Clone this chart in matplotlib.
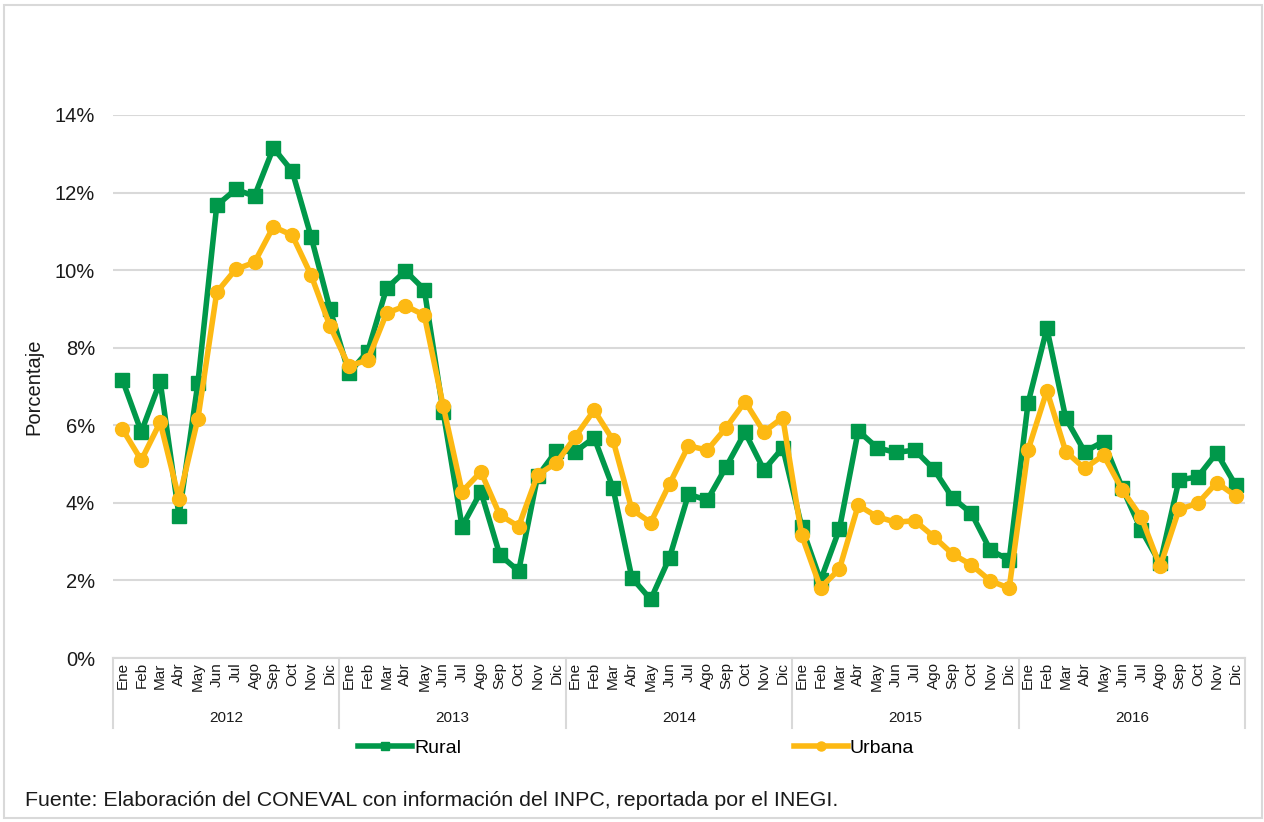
import matplotlib
matplotlib.use("Agg")
import matplotlib.pyplot as plt
from matplotlib.patches import Rectangle
from matplotlib.ticker import FuncFormatter

plt.rcParams['font.family'] = ['Liberation Sans', 'DejaVu Sans']

years = ["2012", "2013", "2014", "2015", "2016"]
months = ["Ene", "Feb", "Mar", "Abr", "May", "Jun",
          "Jul", "Ago", "Sep", "Oct", "Nov", "Dic"]

rural = [7.17, 5.83, 7.13, 3.66, 7.09, 11.67, 12.08, 11.91, 13.15, 12.55, 10.86, 9.0,
         7.35, 7.9, 9.53, 9.98, 9.5, 6.35, 3.39, 4.29, 2.66, 2.24, 4.68, 5.34,
         5.32, 5.68, 4.39, 2.07, 1.51, 2.59, 4.22, 4.07, 4.93, 5.82, 4.85, 5.42,
         3.39, 2.0, 3.32, 5.86, 5.42, 5.3, 5.36, 4.87, 4.13, 3.73, 2.78, 2.53,
         6.57, 8.5, 6.18, 5.32, 5.58, 4.38, 3.3, 2.44, 4.59, 4.67, 5.29, 4.46]

urbana = [5.9, 5.1, 6.08, 4.1, 6.17, 9.43, 10.02, 10.2, 11.12, 10.9, 9.87, 8.56,
          7.53, 7.68, 8.89, 9.08, 8.84, 6.5, 4.29, 4.8, 3.69, 3.39, 4.72, 5.03,
          5.7, 6.39, 5.62, 3.83, 3.49, 4.49, 5.47, 5.36, 5.94, 6.61, 5.83, 6.2,
          3.17, 1.81, 2.29, 3.94, 3.64, 3.5, 3.54, 3.13, 2.68, 2.4, 1.99, 1.8,
          5.36, 6.89, 5.32, 4.89, 5.23, 4.33, 3.63, 2.36, 3.83, 3.99, 4.52, 4.18]

green = "#00984A"
yellow = "#FDB913"
grey = "#D9D9D9"

fig = plt.figure(figsize=(12.64, 8.22), dpi=100)
ax = fig.add_axes([113/1264, 1 - 658/822, (1245 - 113)/1264, (658 - 115)/822])

x = list(range(len(rural)))
ax.plot(x, rural, color=green, lw=4, marker="s", markersize=9.5, label="Rural", zorder=3)
ax.plot(x, urbana, color=yellow, lw=4, marker="o", markersize=10, label="Urbana", zorder=4)

ax.set_xlim(-0.5, len(x) - 0.5)
ax.set_ylim(0, 14)
ax.set_yticks(range(0, 15, 2))
ax.yaxis.set_major_formatter(FuncFormatter(lambda v, p: f"{v:.0f}%"))
ax.grid(axis="y", color=grey, lw=1.5)
ax.set_axisbelow(True)
for s in ["top", "right", "left"]:
    ax.spines[s].set_visible(False)
ax.spines["bottom"].set_color(grey)
ax.spines["bottom"].set_linewidth(1.5)
ax.tick_params(axis="y", length=0, labelsize=14.5, pad=13, labelcolor="#1a1a1a")

ax.set_xticks(x)
ax.set_xticklabels(months * len(years), rotation=90, fontsize=11)
ax.tick_params(axis="x", length=0, pad=3, labelcolor="#1a1a1a")

ax.set_ylabel("Porcentaje", fontsize=14.5, labelpad=8, color="#1a1a1a")

# multi-level category axis: year separators and labels
tr = ax.get_xaxis_transform()
depth = (728 - 658) / (658 - 115)
for i in range(len(years) + 1):
    ax.plot([i * 12 - 0.5, i * 12 - 0.5], [0, -depth], transform=tr,
            color=grey, lw=1.5, clip_on=False)
for i, yr in enumerate(years):
    ax.text(i * 12 + 5.5, -(718 - 658) / (658 - 115), yr, transform=tr,
            ha="center", va="center", fontsize=11, color="#1a1a1a")

fig.legend(loc="center", bbox_to_anchor=(636/1264, 1 - 748/822), ncol=2,
           frameon=False, fontsize=14, handlelength=2.8, handletextpad=0.1,
           columnspacing=17.1, markerscale=0.65)

fig.text(25/1264, 1 - 800/822,
         "Fuente: Elaboración del CONEVAL con información del INPC, reportada por el INEGI.",
         fontsize=15.4, ha="left", va="center", color="#1a1a1a")

fig.patches.append(Rectangle((4/1264, 4/822), 1258/1264, 813/822, transform=fig.transFigure,
                             fill=False, edgecolor=grey, lw=1.5))

fig.savefig("out.png", dpi=100)
